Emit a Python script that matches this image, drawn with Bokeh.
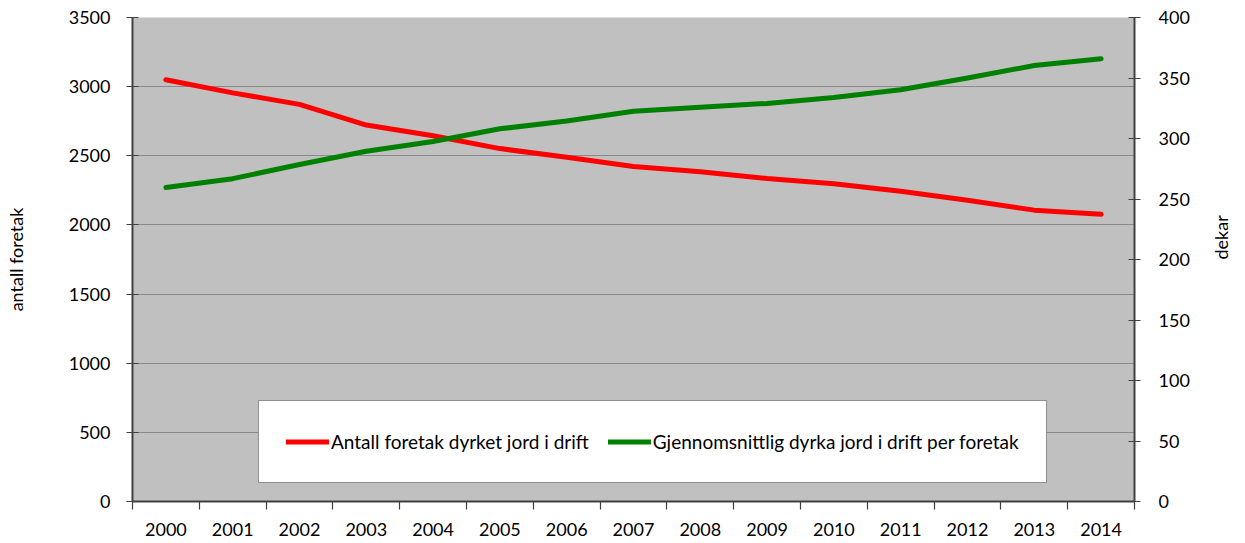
import math
from bokeh.plotting import figure
from bokeh.models import Range1d, LinearAxis, FixedTicker, SingleIntervalTicker, Legend, LegendItem
from bokeh.embed import file_html
from bokeh.resources import INLINE

years = list(range(2000, 2015))
antall_foretak = [3050, 2955, 2872, 2722, 2645, 2552, 2490, 2423, 2385, 2336, 2298, 2243, 2178, 2107, 2077]
snitt_dekar = [259.5, 266.8, 278.5, 289.5, 297.5, 308.0, 314.5, 322.5, 325.9, 329.0, 333.8, 340.3, 350.0, 360.3, 365.9]
left_label = "antall foretak"
right_label = "dekar"
name_red = "Antall foretak dyrket jord i drift"
name_green = "Gjennomsnittlig dyrka jord i drift per foretak"

FONT = "Lato"
FS = "18px"
AXC = "#404040"

p = figure(width=1245, height=543, output_backend="svg", toolbar_location=None,
           x_range=Range1d(years[0] - 0.5, years[-1] + 0.5),
           y_range=Range1d(0, 3500),
           min_border_left=132, min_border_right=111, min_border_top=17, min_border_bottom=42,
           x_axis_location=None, y_axis_location=None)
p.extra_y_ranges = {"r": Range1d(0, 400)}
p.background_fill_color = "#c0c0c0"
p.border_fill_color = "white"
p.outline_line_color = None
p.xgrid.visible = False
p.ygrid.grid_line_color = "#8a8a8a"
p.ygrid.grid_line_width = 1.2
p.ygrid.ticker = SingleIntervalTicker(interval=500)

# x axis
xa = LinearAxis(ticker=FixedTicker(ticks=years, minor_ticks=[y - 0.5 for y in years] + [years[-1] + 0.5]))
xa.major_tick_line_color = None
xa.major_tick_out = 0
xa.major_tick_in = 0
xa.minor_tick_out = 8
xa.minor_tick_in = 0
xa.minor_tick_line_color = AXC
xa.minor_tick_line_width = 1.2
xa.axis_line_color = AXC
xa.axis_line_width = 2
xa.major_label_standoff = 13
xa.major_label_text_font = FONT
xa.major_label_text_font_size = FS
xa.major_label_text_color = "black"
p.add_layout(xa, "below")

# left axis
ya = LinearAxis(ticker=SingleIntervalTicker(interval=500), axis_label=left_label)
ya.major_tick_in = 6
ya.major_tick_out = 6
ya.minor_tick_line_color = None
ya.major_tick_line_color = AXC
ya.major_tick_line_width = 1.2
ya.axis_line_color = AXC
ya.axis_line_width = 2
ya.major_label_standoff = 16
ya.major_label_text_font = FONT
ya.major_label_text_font_size = FS
ya.major_label_text_color = "black"
ya.axis_label_text_font = FONT
ya.axis_label_text_font_size = FS
ya.axis_label_text_font_style = "normal"
ya.axis_label_text_color = "black"
ya.axis_label_standoff = 39
p.add_layout(ya, "left")

# right axis
ra = LinearAxis(y_range_name="r", ticker=SingleIntervalTicker(interval=50), axis_label=right_label)
ra.major_tick_in = 6
ra.major_tick_out = 6
ra.minor_tick_line_color = None
ra.major_tick_line_color = AXC
ra.major_tick_line_width = 1.2
ra.axis_line_color = AXC
ra.axis_line_width = 2
ra.major_label_standoff = 18
ra.major_label_text_font = FONT
ra.major_label_text_font_size = FS
ra.major_label_text_color = "black"
ra.axis_label_text_font = FONT
ra.axis_label_text_font_size = FS
ra.axis_label_text_font_style = "normal"
ra.axis_label_text_color = "black"
ra.axis_label_standoff = 28
ra.axis_label_orientation = math.pi / 2
p.add_layout(ra, "right")

r1 = p.line(years, antall_foretak, line_color="#ff0000", line_width=5, line_cap="round", line_join="round")
r2 = p.line(years, snitt_dekar, y_range_name="r", line_color="#008000", line_width=5, line_cap="round", line_join="round")

leg = Legend(items=[LegendItem(label=name_red, renderers=[r1]), LegendItem(label=name_green, renderers=[r2])],
             orientation="horizontal", location=(126, 18))
leg.padding = 27
leg.margin = 0
leg.spacing = 19
leg.glyph_width = 43
leg.glyph_height = 27
leg.label_standoff = 2
leg.label_text_font = FONT
leg.label_text_font_size = "19px"
leg.label_text_color = "black"
leg.border_line_color = "#202020"
leg.border_line_width = 1.2
leg.background_fill_color = "white"
leg.background_fill_alpha = 1
p.add_layout(leg, "center")

open("out.html", "w").write(file_html(p, INLINE))
